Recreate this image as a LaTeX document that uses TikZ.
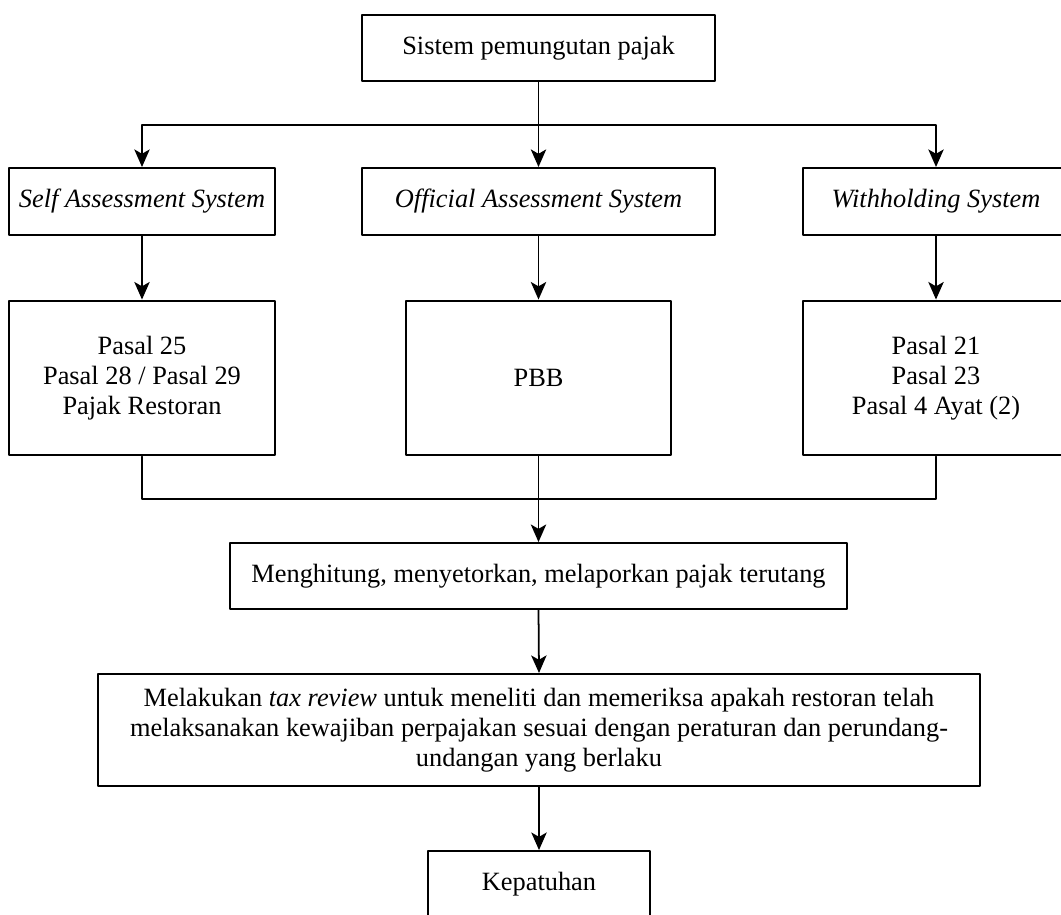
\documentclass[tikz,border=0pt]{standalone}
\usepackage{fontspec}
\setmainfont{Liberation Serif}
\usetikzlibrary{arrows.meta}
\tikzset{
	kotak/.style={draw, line width=0.9pt, align=center, inner sep=2pt},
	panah/.style={-{Stealth[length=8pt,width=7pt,inset=2pt]}, line width=0.8pt},
	garis/.style={line width=0.8pt},
}
\begin{document}
\begin{tikzpicture}[x=0.455pt, y=-0.455pt, font=\fontsize{12}{13.6}\selectfont, line join=round, line cap=round, >=stealth]
			\def\kiri{142}\def\tengah{538.5}\def\kanan{936}
			\useasboundingbox (0,0) rectangle (1061,914);
			\clip (0,0) rectangle (1061,914);
			% tingkat atas
			\node[kotak, minimum width=160.6pt, minimum height=30pt] (sistem) at (\tengah,48) {Sistem pemungutan pajak};
			\node[kotak, minimum width=121pt, minimum height=30.5pt] (self) at (\kiri,201.5) {\textit{Self Assessment System}};
			\node[kotak, minimum width=160.6pt, minimum height=30.5pt] (official) at (\tengah,201.5) {\textit{Official Assessment System}};
			\node[kotak, minimum width=121pt, minimum height=30.5pt] (withholding) at (\kanan,201.5) {\textit{Withholding System}};
			% jenis pajak
			\node[kotak, minimum width=121pt, minimum height=70.5pt] (pasalkiri) at (\kiri,378) {Pasal 25\\Pasal 28 / Pasal 29\\Pajak Restoran};
			\node[kotak, minimum width=120.6pt, minimum height=70.5pt] (pbb) at (\tengah,378) {PBB};
			\node[kotak, minimum width=121pt, minimum height=70.5pt] (pasalkanan) at (\kanan,378) {Pasal 21\\Pasal 23\\Pasal 4 Ayat (2)};
			% tingkat bawah
			\node[kotak, minimum width=280.7pt, minimum height=30pt] (hitung) at (\tengah,576) {Menghitung, menyetorkan, melaporkan pajak terutang};
			\node[kotak, minimum width=401.3pt, minimum height=51pt] (review) at (539,730) {Melakukan \textit{tax review} untuk meneliti dan memeriksa apakah restoran telah\\melaksanakan kewajiban perpajakan sesuai dengan peraturan dan perundang-\\undangan yang berlaku};
			\node[kotak, minimum width=100.6pt, minimum height=30pt] (patuh) at (539,884) {Kepatuhan};
			% panah
			\coordinate (cabang) at (\tengah,125);
			\coordinate (gabung) at (\tengah,499);
			\draw[garis] (sistem.south) -- (cabang);
			\draw[panah] (cabang) -| (self.north);
			\draw[panah] (cabang) -| (withholding.north);
			\draw[panah] (sistem.south) -- (official.north);
			\draw[panah] (self.south) -- (pasalkiri.north);
			\draw[panah] (official.south) -- (pbb.north);
			\draw[panah] (withholding.south) -- (pasalkanan.north);
			\draw[garis] (pasalkiri.south) |- (gabung);
			\draw[garis] (pasalkanan.south) |- (gabung);
			\draw[panah] (pbb.south) -- (hitung.north);
			\draw[panah] (hitung.south) -- (review.north);
			\draw[panah] (review.south) -- (patuh.north);
		\end{tikzpicture}
\end{document}
